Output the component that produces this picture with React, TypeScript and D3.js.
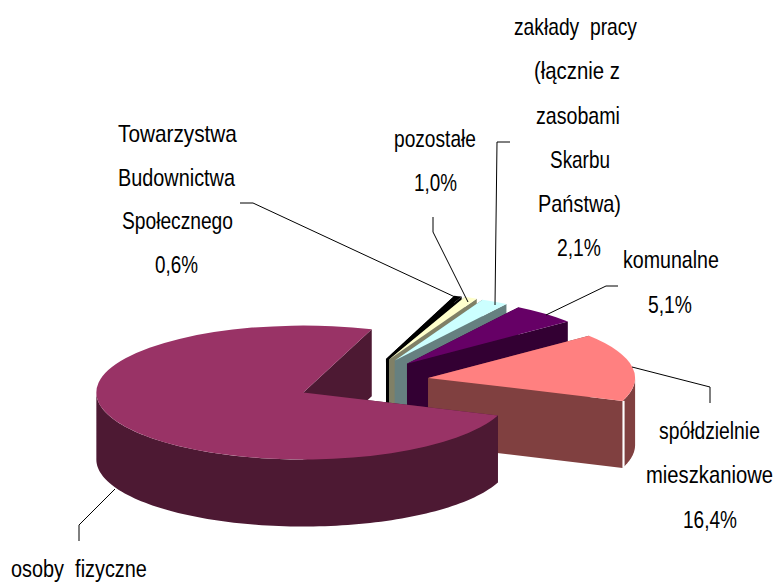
import React from 'react';
import * as d3 from 'd3';

// dane - udzial w procentach, od gornej krawedzi ciagnac zgodnie z zegarem
const categories = [
  ['Towarzystwa', 'Budownictwa', 'Społecznego'],
  ['pozostałe'],
  ['zakłady  pracy', '(łącznie z', 'zasobami', 'Skarbu', 'Państwa)'],
  ['komunalne'],
  ['spółdzielnie', 'mieszkaniowe'],
  ['osoby  fizyczne'],
];
const shares = [0.6, 1.0, 2.1, 5.1, 16.4, 74.8];
const topColors = ['#000000', '#FFFFCC', '#CCFFFF', '#660066', '#FF8080', '#993366'];
const sideColors = ['#000000', '#808066', '#668080', '#330033', '#804040', '#4D1933'];

// uklad
const W = 777;
const H = 582;
const cx = 363;
const cy = 382;
const rx = 207;
const ry = 67;
const depth = 67;
const explodeX = 66;
const explodeY = 24.6;
const startDeg = 19.3;
const fontSize = 24;
const fontFamily = "'Liberation Sans', Arial, sans-serif";

// [x poczatku, x konca, linia bazowa] kolejnych wierszy kazdej etykiety, ostatni to procent
const labelBoxes: [number, number, number][][] = [
  [[118, 237, 142], [118, 235, 186], [122, 233, 229], [155, 198, 273]],
  [[394, 476, 147], [414, 457, 191]],
  [[514, 637, 35], [534, 620, 79], [536, 620, 124], [550, 610, 168], [538, 621, 212], [557, 601, 256]],
  [[623, 719, 268], [648, 692, 313]],
  [[659, 760, 439], [646, 773, 483], [683, 737, 528]],
  [[11, 147, 577]],
];
const leaders: [number, number][][] = [
  [[240, 203], [253, 203], [455, 297]],
  [[433, 217], [433, 232], [468, 302]],
  [[510, 142], [497, 142], [495, 305]],
  [[618, 286], [606, 286], [546, 315]],
  [[632, 367], [710, 387], [710, 403]],
  [[115, 489], [79, 525], [79, 541]],
];

const pieGen = d3
  .pie<number>()
  .sort(null)
  .startAngle((startDeg * Math.PI) / 180)
  .endAngle((startDeg * Math.PI) / 180 + 2 * Math.PI);

const arcGen = d3.arc<d3.PieArcDatum<number>>().innerRadius(0).outerRadius(rx);
const lineGen = d3.line();
const fmt = (v: number) => v.toFixed(1).replace('.', ',') + '%';

// napisy w oryginale sa wezsze niz Liberation Sans, wiec sciskamy je w poziomie
const measure = document.createElement('canvas').getContext('2d') as CanvasRenderingContext2D;
measure.font = `${fontSize}px ${fontFamily}`;

const App = () => {
  const arcs = pieGen(shares);

  const slices = arcs.map((a, i) => {
    const mid = (a.startAngle + a.endAngle) / 2;
    const ox = cx + explodeX * Math.sin(mid);
    const oy = cy - explodeY * Math.cos(mid);
    const pt = (t: number, dy = 0): [number, number] => [ox + rx * Math.sin(t), oy - ry * Math.cos(t) + dy];
    const wall = (t: number) => {
      const p = pt(t);
      return lineGen([[ox, oy], p, [p[0], p[1] + depth], [ox, oy + depth]]) + 'Z';
    };

    // sciana boczna widoczna tylko od frontu (90-270 stopni)
    const from = Math.max(a.startAngle, Math.PI / 2);
    const to = Math.min(a.endAngle, (3 * Math.PI) / 2);
    let rim = null;
    if (to > from) {
      const ts = d3.range(0, 101).map((k) => from + ((to - from) * k) / 100);
      rim = lineGen([...ts.map((t) => pt(t)), ...ts.slice().reverse().map((t) => pt(t, depth))]) + 'Z';
    }
    return { a, i, ox, oy, pt, walls: [wall(a.startAngle), wall(a.endAngle)], rim };
  });

  const spol = slices[4];
  const corner = spol.pt(spol.a.endAngle);

  return (
    <svg
      width={W}
      height={H}
      style={{ position: 'absolute', left: 0, top: 0, background: '#fff' }}
      fontFamily={fontFamily}
      fontSize={fontSize}
    >
      {slices.map((s) => (
        <g key={s.i}>
          {s.walls.map((d, k) => (
            <path key={k} d={d} fill={sideColors[s.i]} />
          ))}
          {s.rim && <path d={s.rim} fill={sideColors[s.i]} />}
          {s.i === 4 && (
            <line x1={corner[0] + 1} x2={corner[0] + 1} y1={corner[1]} y2={corner[1] + depth} stroke="#fff" strokeWidth={2} />
          )}
          <path
            d={arcGen(s.a) as string}
            fill={topColors[s.i]}
            transform={`translate(${s.ox},${s.oy}) scale(1,${ry / rx})`}
          />
        </g>
      ))}

      {leaders.map((pts, i) => (
        <path key={i} d={lineGen(pts) as string} fill="none" stroke="#000" strokeWidth={1} />
      ))}

      {categories.map((lines, i) => {
        const texts = [...lines, fmt(shares[i])];
        return labelBoxes[i].map((b, k) => {
          const sx = (b[1] - b[0]) / measure.measureText(texts[k]).width;
          return (
            <text
              key={`${i}-${k}`}
              transform={`translate(${b[0]},${b[2]}) scale(${sx},1)`}
              fill="#000"
              style={{ whiteSpace: 'pre' }}
            >
              {texts[k]}
            </text>
          );
        });
      })}
    </svg>
  );
};

export default App;
